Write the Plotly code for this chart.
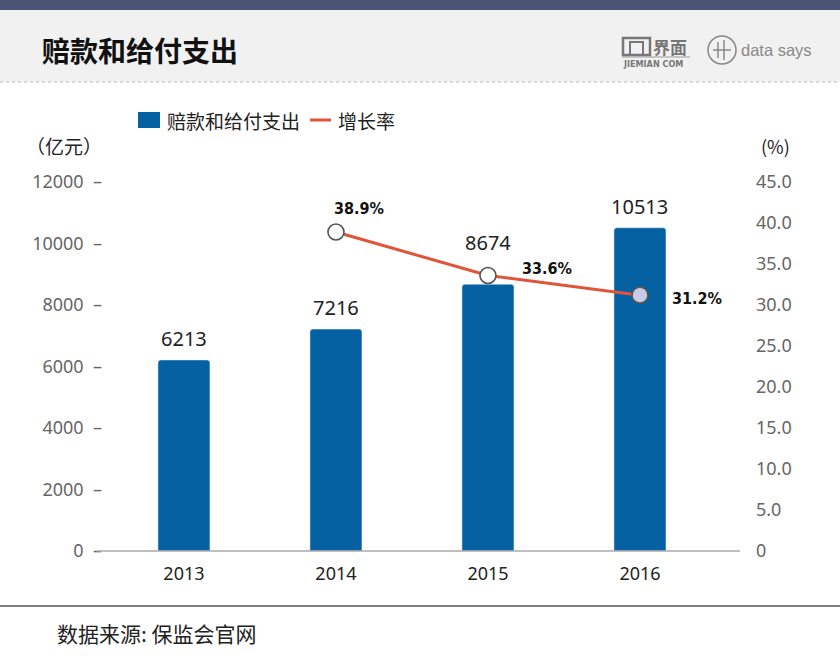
import plotly.graph_objects as go

years = ["2013", "2014", "2015", "2016"]
payouts = [6213, 7216, 8674, 10513]
growth_years = ["2014", "2015", "2016"]
growth = [38.9, 33.6, 31.2]
growth_labels = ["38.9%", "33.6%", "31.2%"]
left_ticks = [0, 2000, 4000, 6000, 8000, 10000, 12000]
right_ticks = [0, 5, 10, 15, 20, 25, 30, 35, 40, 45]
right_tick_text = ["0", "5.0", "10.0", "15.0", "20.0", "25.0", "30.0", "35.0", "40.0", "45.0"]

W, H = 840, 658
L, R, T, B = 97, 740, 182, 551


def px(x):
    return (x - L) / (R - L)


def py(y):
    return (B - y) / (B - T)


CJK = "Noto Sans CJK SC, Noto Sans, sans-serif"
BLUE = "#0561a1"
RED = "#e0553a"

fig = go.Figure()
fig.add_trace(go.Bar(
    x=years, y=payouts, name="赔款和给付支出",
    marker=dict(color=BLUE, cornerradius=3),
    showlegend=False,
))
fig.add_trace(go.Scatter(
    x=growth_years, y=growth, yaxis="y2", name="增长率", mode="lines+markers",
    line=dict(color=RED, width=3),
    marker=dict(size=16, color=["#ffffff", "#ffffff", "#c9cbe4"],
                line=dict(color="#555555", width=1.6)),
    cliponaxis=False, showlegend=False,
))

shapes = [
    dict(type="rect", xref="paper", yref="paper", x0=px(0), x1=px(W), y0=py(0), y1=py(10),
         fillcolor="#4a5575", line=dict(width=0), layer="below"),
    dict(type="rect", xref="paper", yref="paper", x0=px(0), x1=px(W), y0=py(10), y1=py(82),
         fillcolor="#f1f1f1", line=dict(width=0), layer="below"),
    dict(type="line", xref="paper", yref="paper", x0=px(0), x1=px(W), y0=py(82), y1=py(82),
         line=dict(color="#bbbbbb", width=1, dash="dot")),
    dict(type="line", xref="paper", yref="paper", x0=px(97), x1=px(740), y0=py(551), y1=py(551),
         line=dict(color="#aaaaaa", width=1.5)),
    dict(type="line", xref="paper", yref="paper", x0=px(0), x1=px(W), y0=py(606), y1=py(606),
         line=dict(color="#555555", width=1.5)),
    # legend swatches
    dict(type="rect", xref="paper", yref="paper", x0=px(138), x1=px(160), y0=py(112), y1=py(128),
         fillcolor=BLUE, line=dict(width=0)),
    dict(type="line", xref="paper", yref="paper", x0=px(310), x1=px(331), y0=py(120), y1=py(120),
         line=dict(color=RED, width=3)),
    # data says circle logo
    dict(type="circle", xref="paper", yref="paper", x0=px(708), x1=px(736), y0=py(36), y1=py(64),
         line=dict(color="#888888", width=1.5)),
    dict(type="line", xref="paper", yref="paper", x0=px(718), x1=px(718), y0=py(42), y1=py(58),
         line=dict(color="#888888", width=1.5)),
    dict(type="line", xref="paper", yref="paper", x0=px(724), x1=px(724), y0=py(40), y1=py(60),
         line=dict(color="#888888", width=1.5)),
    dict(type="line", xref="paper", yref="paper", x0=px(713), x1=px(731), y0=py(50), y1=py(50),
         line=dict(color="#888888", width=1.5)),
    # jiemian icon
    dict(type="rect", xref="paper", yref="paper", x0=px(623), x1=px(650), y0=py(38), y1=py(55),
         line=dict(color="#777777", width=2.5)),
    dict(type="rect", xref="paper", yref="paper", x0=px(630), x1=px(643), y0=py(42), y1=py(55),
         line=dict(color="#777777", width=2)),
    dict(type="line", xref="paper", yref="paper", x0=px(622), x1=px(690), y0=py(57), y1=py(57),
         line=dict(color="#999999", width=1)),
]

annotations = [
    dict(text="<b>赔款和给付支出</b>", x=px(40), y=py(50), xanchor="left", yanchor="middle",
         font=dict(family=CJK, size=28, color="#111")),
    dict(text="<b>界面</b>", x=px(651), y=py(46), xanchor="left", yanchor="middle",
         font=dict(family=CJK, size=17, color="#777")),
    dict(text="<b>JIEMIAN COM</b>", x=px(621), y=py(64), xanchor="left", yanchor="middle",
         font=dict(family="DejaVu Sans Condensed, sans-serif", size=9, color="#777")),
    dict(text="data says", x=px(739), y=py(50), xanchor="left", yanchor="middle",
         font=dict(family="Liberation Sans, sans-serif", size=16.5, color="#888")),
    dict(text="赔款和给付支出", x=px(165), y=py(120), xanchor="left", yanchor="middle",
         font=dict(family=CJK, size=19, color="#222")),
    dict(text="增长率", x=px(336), y=py(120), xanchor="left", yanchor="middle",
         font=dict(family=CJK, size=19, color="#222")),
    dict(text="（亿元）", x=px(24), y=py(146), xanchor="left", yanchor="middle",
         font=dict(family=CJK, size=19, color="#222")),
    dict(text="(%)", x=px(759), y=py(146), xanchor="left", yanchor="middle",
         font=dict(family=CJK, size=18, color="#222")),
    dict(text="数据来源: 保监会官网", x=px(55), y=py(633), xanchor="left", yanchor="middle",
         font=dict(family=CJK, size=21, color="#222")),
]
for a in annotations:
    a.update(xref="paper", yref="paper", showarrow=False)

bar_shift = [6, 6, 26, 6]
for i, (yv, s) in enumerate(zip(payouts, bar_shift)):
    annotations.append(dict(x=i, y=yv, xref="x", yref="y", text=str(yv), showarrow=False,
                            yanchor="bottom", yshift=s,
                            font=dict(family="Noto Sans, sans-serif", size=20, color="#222")))

shifts = [(-4, 24), (32, 7), (30, -3)]
for xv, yv, lab, (dx, dy) in zip(growth_years, growth, growth_labels, shifts):
    annotations.append(dict(x=years.index(xv), y=yv, xref="x", yref="y2", text="<b>" + lab + "</b>",
                            showarrow=False, xanchor="left", xshift=dx, yshift=dy,
                            font=dict(family="Liberation Sans Narrow, DejaVu Sans Condensed, sans-serif",
                                      size=16, color="#111")))

fig.update_layout(
    width=W, height=H,
    margin=dict(l=L, r=W - R, t=T, b=H - B, pad=0),
    paper_bgcolor="white", plot_bgcolor="white",
    bargap=0.658,
    showlegend=False,
    xaxis=dict(type="category", range=[-0.572, 3.658], showgrid=False, showline=False,
               zeroline=False, ticks="", tickfont=dict(family="Noto Sans, sans-serif", size=18, color="#222"),
               ticklabelstandoff=10),
    yaxis=dict(range=[0, 12000], tickvals=left_ticks, ticktext=[f"{v}  –" for v in left_ticks],
               showgrid=False, zeroline=False, showline=False, ticks="",
               tickfont=dict(family="Noto Sans, sans-serif", size=18, color="#666"),
               ticklabelstandoff=-6),
    yaxis2=dict(range=[0, 45], overlaying="y", side="right", tickvals=right_ticks,
                ticktext=right_tick_text, showgrid=False, zeroline=False, showline=False, ticks="",
                tickfont=dict(family="Noto Sans, sans-serif", size=18, color="#666"),
                ticklabelstandoff=15),
    shapes=shapes, annotations=annotations,
)

fig.write_html("out.html", config={"displayModeBar": False},
               post_script="document.body.style.margin='0';document.body.style.padding='0';")
